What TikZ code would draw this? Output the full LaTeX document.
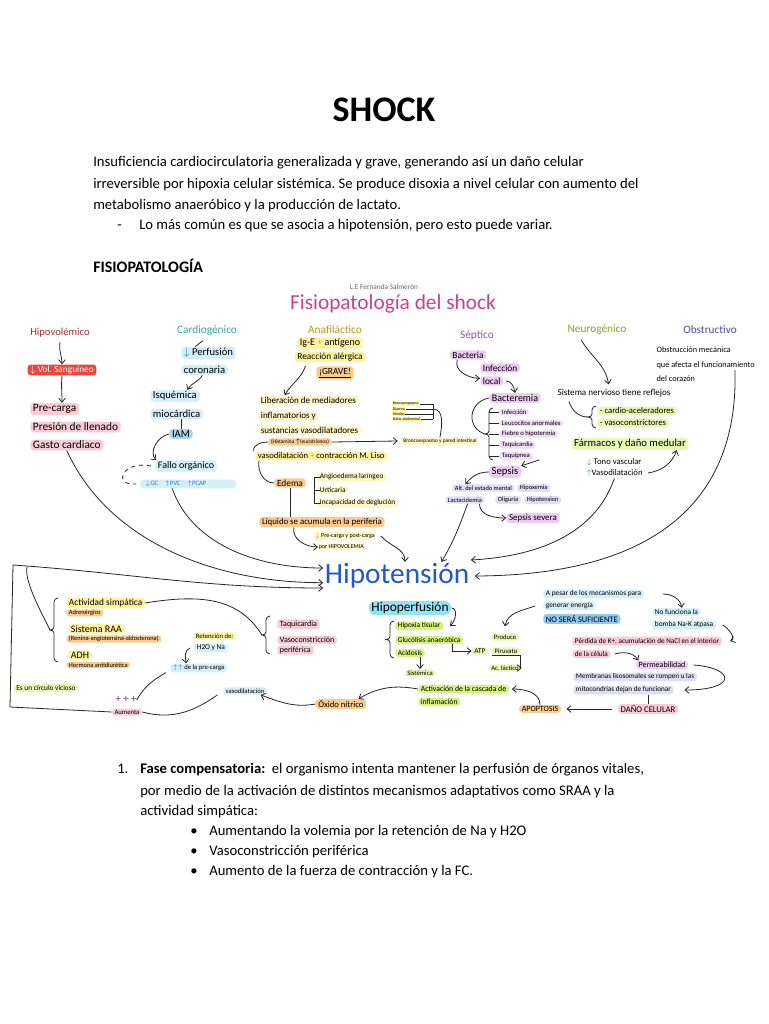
\documentclass[tikz,border=0pt]{standalone}
\usepackage{fontspec}
\setmainfont{Carlito}
\frenchspacing
\usetikzlibrary{arrows.meta,positioning}
\definecolor{hipoRed}{HTML}{A32B3F}
\definecolor{volRed}{HTML}{E8473F}
\definecolor{mapPink}{HTML}{F9CBD6}
\definecolor{cardTeal}{HTML}{3C9FA8}
\definecolor{mapBlue}{HTML}{D5EFF8}
\definecolor{iamBlue}{HTML}{A9D3F2}
\definecolor{arrBlue}{HTML}{2F78D0}
\definecolor{mapYellow}{HTML}{FFF29E}
\definecolor{mapYellowL}{HTML}{FDF6C8}
\definecolor{mapOrange}{HTML}{F9CB8E}
\definecolor{plusOrange}{HTML}{F0A020}
\definecolor{anaOlive}{HTML}{B39B1F}
\definecolor{septPurple}{HTML}{8A5AA8}
\definecolor{mapPurple}{HTML}{EDCBF3}
\definecolor{mapLav}{HTML}{DEDFF7}
\definecolor{neuroGreen}{HTML}{86A227}
\definecolor{mapGreenL}{HTML}{E8F8B4}
\definecolor{mapGreen}{HTML}{D6F27E}
\definecolor{arrGreen}{HTML}{3FA33A}
\definecolor{obsBlue}{HTML}{4B4F9A}
\definecolor{titlePink}{HTML}{C8438F}
\definecolor{hipoBlue}{HTML}{2359C6}
\definecolor{perfCyan}{HTML}{93E3F2}
\definecolor{boxBlue}{HTML}{8FC8F2}
\definecolor{plusPurple}{HTML}{7A2E8A}

% curly bracket: x, top, bottom, name of tip
\newcommand{\curlyb}[4]{%
  \draw[line] ({#1+4},#2) to[out=180,in=90] (#1,{#2+4}) -- (#1,{(#2+#3)/2-3})
    to[out=-90,in=0] ({#1-4},{(#2+#3)/2}) to[out=0,in=90] (#1,{(#2+#3)/2+3})
    -- (#1,{#3-4}) to[out=-90,in=180] ({#1+4},#3);
  \coordinate (#4) at ({#1-4},{(#2+#3)/2});}

\begin{document}
\begin{tikzpicture}[x=0.75pt,y=-0.75pt,
    fs/.style={font=\fontsize{#1}{#1}\selectfont},
    tag/.style={rounded corners=2.5pt,inner xsep=2pt,inner ysep=1pt},
    pk/.style={tag,fill=mapPink},
    bl/.style={tag,fill=mapBlue},
    yl/.style={tag,fill=mapYellow},
    ylt/.style={tag,fill=mapYellowL},
    og/.style={tag,fill=mapOrange},
    pu/.style={tag,fill=mapPurple},
    lv/.style={tag,fill=mapLav},
    gl/.style={tag,fill=mapGreenL},
    gr/.style={tag,fill=mapGreen},
    line/.style={draw=black!85,line width=0.6pt},
    arr/.style={line,-{Straight Barb[length=3pt,width=5pt]}},
    body/.style={anchor=base west,inner sep=0pt,fs=11}]
  \useasboundingbox[fill=white] (0,0) rectangle (768,1024);

  % page text
  \node[anchor=base,inner sep=0pt,font=\bfseries\fontsize{27}{30}\selectfont] (shock) at (384,121) {SHOCK};
  \node[body] (p1) at (93,166) {Insuficiencia cardiocirculatoria generalizada y grave, generando así un daño celular};
  \node[body] (p2) at (93,188) {irreversible por hipoxia celular sistémica. Se produce disoxia a nivel celular con aumento del};
  \node[body] (p3) at (93,209) {metabolismo anaeróbico y la producción de lactato.};
  \node[body] (dsh) at (117,229) {-};
  \node[body] (p4) at (139,229) {Lo más común es que se asocia a hipotensión, pero esto puede variar.};
  \node[body,font=\bfseries\fontsize{12}{14}\selectfont] (fisio) at (93,272) {FISIOPATOLOGÍA};

  % map title
  \node[fs=5.5,text=black!60] (autor) at (384,287) {L.E Fernanda Salmerón};
  \node[fs=16,text=titlePink] (mtitle) at (393,304) {Fisiopatología del shock};

  % hipovolemico
  \node[fs=8,text=hipoRed] (hipo) at (60,333) {Hipovolémico};
  \node[tag,fill=volRed,text=white,fs=7] (vol) at (62,370) {$\downarrow$ Vol. Sanguíneo};
  \node[pk,fs=8.5,anchor=west] (prec) at (30,409) {Pre-carga};
  \node[pk,fs=8.5,anchor=west] (pres) at (30,427) {Presión de llenado};
  \node[pk,fs=8.5,anchor=west] (gasto) at (30,445) {Gasto cardiaco};

  % cardiogenico
  \node[fs=8.5,text=cardTeal] (cardio) at (207,331) {Cardiogénico};
  \node[bl,fs=8,anchor=west] (perf) at (181,353) {\textcolor{arrBlue}{$\downarrow$} Perfusión};
  \node[bl,fs=8,anchor=west] (coro) at (181,370) {coronaria};
  \node[bl,fs=8,anchor=west] (isq) at (150,396) {Isquémica};
  \node[bl,fs=8,anchor=west] (mioc) at (150,414) {miocárdica};
  \node[tag,fill=iamBlue,fs=8] (iam) at (181,434) {IAM};
  \node[bl,fs=7.5,anchor=west] (fallo) at (155,466) {Fallo orgánico};
  \node[bl,fs=5,anchor=west,text=arrBlue,text width=64pt,inner xsep=4pt,align=left] (gc) at (140,484) {$\downarrow$GC \ \ $\uparrow$PVC \ \ $\uparrow$PCAP};

  % anafilactico
  \node[fs=8.5,text=anaOlive] (ana) at (335,330) {Anafiláctico};
  \node[yl,fs=7.5] (ige) at (330,343) {Ig-E \textcolor{plusOrange}{+} antígeno};
  \node[yl,fs=7] (reac) at (330,357) {Reacción alérgica};
  \node[og,fs=7] (grave) at (335,373) {\underline{¡GRAVE!}};
  \node[ylt,fs=6.8,anchor=west] (lib) at (258,400) {Liberación de mediadores};
  \node[ylt,fs=6.8,anchor=west] (infl) at (258,416) {inflamatorios y};
  \node[ylt,fs=6.8,anchor=west] (sust) at (258,430) {sustancias vasodilatadores};
  \node[og,fs=4,inner ysep=0.5pt] (hist) at (300,442) {(Histamina \textbf{$\uparrow$}leucotrienos)};
  \node[fs=4,fill=mapYellowL,inner sep=1pt] (bronq) at (440,441) {Broncoespasmo y pared intestinal};
  \foreach \t [count=\i] in {Broncoespasmo,Diarrea,Vómito,Dolor abdominal}
    \node[fs=3,fill=mapYellow,inner sep=0.4pt,anchor=west] (br\i) at (392,{399+5*\i}) {\t};
  \node[yl,fs=6.5,anchor=west] (vaso) at (255,456) {vasodilatación \textcolor{plusOrange}{+} contracción M. Liso};
  \node[og,fs=7] (edema) at (290,483) {Edema};
  \node[ylt,fs=5.5,anchor=west] (angio) at (317,477) {Angioedema laríngeo};
  \node[ylt,fs=5.5,anchor=west] (urt) at (317,490) {Urticaria};
  \node[ylt,fs=5.5,anchor=west] (incap) at (317,503) {Incapacidad de deglución};
  \node[og,fs=6.6] (liq) at (322,522) {Líquido se acumula en la periferia};
  \node[fs=4.5,inner sep=0.5pt,anchor=west,fill=mapYellowL] (pc1) at (314,536) {\textcolor{plusOrange}{$\downarrow$} Pre-carga y post-carga};
  \node[fs=4.5,inner sep=0.5pt,anchor=west,fill=mapYellowL] (pc2) at (318,547) {por HIPOVOLEMIA};

  % septico
  \node[fs=8.5,text=septPurple] (sept) at (477,335) {Séptico};
  \node[pu,fs=7] (bact) at (468,355) {Bacteria};
  \node[pu,fs=7,anchor=west] (inf1) at (480,368) {Infección};
  \node[pu,fs=7,anchor=west] (inf2) at (480,381) {local};
  \node[pu,fs=7.5] (bacte) at (515,398) {Bacteremia};
  \foreach \t [count=\i] in {Infección,Leucocitos anormales,Fiebre o hipotermia,Taquicardia,Taquipnea}
    \node[pu,fs=5,anchor=west,inner ysep=0.6pt,fill=mapPurple!70] (sl\i) at (499,{401+11*\i}) {\t};
  \node[pu,fs=8] (sepsis) at (505,472) {Sepsis};
  \node[lv,fs=4.8,anchor=west] (alt) at (452,488) {Alt. del estado mental};
  \node[lv,fs=4.8,anchor=west] (hpx) at (517,488) {Hipoxemia};
  \node[lv,fs=4.8,anchor=west] (lact) at (445,500) {Lactacidemia};
  \node[lv,fs=4.8,anchor=west] (olig) at (495,500) {Oliguria};
  \node[lv,fs=4.8,anchor=west] (hpt) at (524,500) {Hipotension};
  \node[pu,fs=6.7] (sevsep) at (533,518) {Sepsis severa};

  % neurogenico
  \node[fs=8.5,text=neuroGreen] (neuro) at (597,330) {Neurogénico};
  \node[fs=6.8] (snrf) at (614,393) {Sistema nervioso tiene reflejos};
  \node[gl,fs=6.5,anchor=west] (cacc) at (597,411) {- cardio-aceleradores};
  \node[gl,fs=6.5,anchor=west] (vcon) at (597,423) {- vasoconstrictores};
  \node[gl,fs=8] (farm) at (630,444) {Fármacos y daño medular};
  \node[fs=6.5,anchor=west,inner sep=1pt] (tono) at (585,462) {\textcolor{arrGreen}{$\downarrow$} Tono vascular};
  \node[fs=6.5,anchor=west,inner sep=1pt] (vdil) at (585,473) {\textcolor{arrGreen}{$\uparrow$}Vasodilatación};

  % obstructivo
  \node[fs=8.5,text=obsBlue] (obst) at (710,330) {Obstructivo};
  \node[fs=6.2,anchor=west,inner sep=1pt] (ob1) at (655,350) {Obstrucción mecánica};
  \node[fs=6.2,anchor=west,inner sep=1pt] (ob2) at (655,365) {que afecta el funcionamiento};
  \node[fs=6.2,anchor=west,inner sep=1pt] (ob3) at (655,379) {del corazón};

  % hipotension
  \node[text=hipoBlue,fs=22,inner sep=1pt] (hten) at (397,576) {Hipotensión};

  % compensacion
  \node[yl,fs=7,anchor=west] (act) at (66,603) {Actividad simpática};
  \node[og,fs=4.8,anchor=west,inner ysep=0.5pt] (adr) at (66,613) {Adrenérgico};
  \node[yl,fs=7.5,anchor=west] (raa) at (68,629) {Sistema RAA};
  \node[og,fs=4.8,anchor=west,inner ysep=0.5pt] (ren) at (66,639) {(Renina-angiotensina-aldosterona)};
  \node[yl,fs=7.5,anchor=west] (adh) at (68,655) {ADH};
  \node[og,fs=4.8,anchor=west,inner ysep=0.5pt] (horm) at (66,665) {Hormona antidiurética};
  \node[gl,fs=5.5] (circ) at (46,688) {Es un círculo vicioso};
  \node[fs=8,text=plusPurple,inner sep=0pt] (plus) at (126,700) {+ + +};
  \node[pk,fs=5] (aum) at (127,712) {Aumenta};
  \node[yl,fs=5,anchor=west] (ret) at (193,636) {Retención de:};
  \node[bl,fs=5.5,anchor=west] (h2o) at (194,648) {H2O y Na};
  \node[bl,fs=5,anchor=west] (pre2) at (170,668) {\textcolor{arrBlue}{$\uparrow\uparrow$} de la pre-carga};
  \node[pk,fs=6,anchor=west] (taq) at (277,624) {Taquicardia};
  \node[pk,fs=6,anchor=west] (vc1) at (277,640) {Vasoconstricción};
  \node[pk,fs=6,anchor=west] (vc2) at (277,650) {periférica};
  \node[bl,fs=5] (vasod) at (245,691) {vasodilatación};
  \node[og,fs=6.5] (oxido) at (341,704) {Óxido nítrico};

  % hipoperfusion
  \node[tag,fill=perfCyan,fs=10,rounded corners=5pt] (hperf) at (410,608) {Hipoperfusión};
  \node[gr,fs=5.5,anchor=west] (hx) at (395,626) {Hipoxia tisular};
  \node[gr,fs=5.5,anchor=west] (glu) at (395,640) {Glucólisis anaeróbica};
  \node[gr,fs=5.5,anchor=west] (acid) at (395,653) {Acidosis};
  \node[gl,fs=5] (sist) at (420,673) {Sistémica};
  \node[gl,fs=5] (prod) at (505,637) {Produce};
  \node[gl,fs=5.5] (atp) at (480,651) {ATP};
  \node[gl,fs=5] (piru) at (506,651) {Piruvato};
  \node[gl,fs=5] (acl) at (505,668) {Ac. láctico};
  \node[gr,fs=5.8,anchor=west] (act1) at (418,689) {Activación de la cascada de};
  \node[gr,fs=5.8,anchor=west] (act2) at (418,702) {inflamación};
  \node[og,fs=6] (apop) at (540,709) {APOPTOSIS};
  \node[pk,fs=6.5] (dano) at (648,709) {DAÑO CELULAR};

  % daño celular
  \node[bl,fs=5.5,anchor=west] (ap1) at (543,594) {A pesar de los mecanismos para};
  \node[bl,fs=5.5,anchor=west] (ap2) at (543,606) {generar energía};
  \node[tag,fill=boxBlue,fs=6.3,anchor=west] (nos) at (543,619) {NO SERÁ SUFICIENTE};
  \node[bl,fs=5.5,anchor=west] (nof) at (652,612) {No funciona la};
  \node[bl,fs=5.5,anchor=west] (bom) at (652,625) {bomba Na-K atpasa};
  \node[pk,fs=5.4,anchor=west] (perd) at (572,641) {Pérdida de K+, acumulación de NaCl en el interior};
  \node[pk,fs=5.4,anchor=west] (cel) at (572,654) {de la célula};
  \node[pu,fs=6] (perm) at (662,665) {Permeabilidad};
  \node[lv,fs=5.4,anchor=west] (mem1) at (573,677) {Membranas lisosomales se rompen u las};
  \node[lv,fs=5.4,anchor=west] (mem2) at (573,690) {mitocondrias dejan de funcionar};

  % brackets
  \curlyb{489}{408}{460}{brSep}
  \curlyb{592}{406}{428}{brNeu}
  \curlyb{54}{598}{662}{brSim}
  \curlyb{266}{616}{654}{brTaq}
  \curlyb{390}{621}{658}{brHx}
  \coordinate (sbx) at (489,0);
  \coordinate (bx) at (433,0);

  % connectors: columns
  \draw[arr] (hipo.south) to[out=-100,in=90] (vol.north);
  \draw[arr] (vol.south) to[out=-95,in=90] (vol.south |- prec.north);
  \draw[line] ([xshift=-3pt]cardio.south) -- ([xshift=-10pt]perf.north);
  \draw[arr] ([xshift=16pt]coro.south west) to[out=-120,in=60] ([xshift=28pt]isq.north west);
  \draw[line] (mioc.south -| iam.north) -- (iam.north);
  \draw[arr] (iam.west) to[out=190,in=135] ([xshift=1pt]fallo.north west);
  \draw[line,dashed] ([xshift=-3pt]fallo.west) .. controls (122,460) and (112,486) .. ([xshift=-3pt]gc.west);
  \draw[arr] (gasto.south) .. controls (110,545) and (220,583) .. ([yshift=-5pt]hten.west);
  \draw[arr] ([xshift=-12pt]gc.south) .. controls (190,540) and (250,568) .. ([yshift=6pt]hten.west);

  \draw[arr] ([xshift=-8pt]grave.north west) to[out=-110,in=60] ([xshift=20pt]lib.north west);
  \draw[arr] (hist.east) -- ([xshift=-3pt]bronq.west);
  \foreach \b in {br1,br2,br3,br4}
    \draw[line] (\b.east) -- (\b.east -| bx);
  \draw[line] (bx |- br1) -- (bx |- br4);
  \draw[line] (bx |- br2) to[out=0,in=80] (bronq.north);
  \draw[line] (hist.west) to[out=180,in=100] ([xshift=-1pt]vaso.north west);
  \draw[line] ([xshift=3pt]vaso.south west) to[out=-100,in=180] (edema.west);
  \draw[line] ([xshift=3pt]angio.west) -| ([xshift=-2pt]incap.west) -- ([xshift=3pt]incap.west);
  \draw[line] ([xshift=-2pt]urt.west) -- ([xshift=2pt]urt.west);
  \draw[line] (edema.south) -- (edema.south |- liq.north);
  \draw[arr] ([xshift=26pt]liq.south west) to[out=-100,in=180] (pc2.west);
  \draw[arr] ([xshift=4pt]pc1.east) to[out=-50,in=90] ([xshift=6pt]hten.north);

  \draw[arr] ([xshift=-8pt]bact.south) to[out=-110,in=180] ([yshift=2pt]inf2.west);
  \draw[arr] ([xshift=2pt]inf2.east) to[out=0,in=100] (bacte.north);
  \draw[line] (bacte.west) .. controls (468,402) and (466,428) .. (brSep);
  \foreach \n in {sl1,sl2,sl3,sl4,sl5}
    \draw[line] (\n.west) -- (\n.west -| sbx);
  \draw[arr] ([xshift=5pt]sl5.south east) -- (sepsis.north east);
  \draw[arr] (sepsis.west) to[out=180,in=50] ([xshift=10pt]alt.north west);
  \draw[arr] ([xshift=-4pt]lact.south east) to[out=-90,in=180] (sevsep.west);
  \draw[arr] ([xshift=2pt]lact.south) to[out=-110,in=60] ([xshift=-22pt]hten.north east);

  \draw[arr] ([xshift=-12pt]neuro.south) to[out=-60,in=100] ([xshift=-4pt]snrf.north);
  \draw[line] ([xshift=12pt]snrf.south west) to[out=-70,in=180] (brNeu);
  \draw[arr] ([xshift=3pt]vdil.east) to[out=10,in=-110] ([xshift=-9pt]farm.south east);
  \draw[arr] ([xshift=22pt]vdil.south west) .. controls (600,520) and (560,555) .. ([yshift=12pt]hten.east);
  \draw[arr] ([xshift=-16pt]ob2.south east) .. controls (738,470) and (690,575) .. ([xshift=3pt]hten.east);

  % connectors: compensation loop
  \draw[arr] (aum.west) -- (10,707) -- (13,565) to[out=-4,in=180] ([yshift=-9pt]hten.west);
  \draw[line] (brSim) .. controls (40,610) and (24,580) .. (27,567);
  \draw[line] (act.east) .. controls (205,593) and (240,600) .. (brTaq);
  \draw[arr] ([xshift=-3pt]h2o.west) to[out=200,in=95] ([xshift=12pt]pre2.north west);
  \draw[line] (plus.east) to[out=60,in=-150] ([xshift=-3pt]pre2.south west);
  \draw[line] (aum.east) to[out=-15,in=-145] ([xshift=-4pt]vasod.south west);
  \draw[arr] (oxido.west) to[out=190,in=-20] ([xshift=-5pt]vasod.south east);
  \draw[arr] (act1.west) to[out=170,in=30] ([xshift=-6pt]oxido.north east);

  % connectors: hipoperfusion
  \draw[arr] (hperf.east) to[out=0,in=40] ([xshift=5pt]hx.east);
  \draw[arr] (acid.south -| sist.north) -- (sist.north);
  \draw[arr] ([xshift=-8pt]glu.south east) |- (atp.west);
  \draw[arr] (piru.south west) -- (piru.south east) |- (acl.east);
  \draw[arr] (apop.north) to[out=90,in=0] ([xshift=2pt]act1.east);
  \draw[arr] ([xshift=-4pt]dano.west) -- ([xshift=4pt]apop.east);
  \draw[line] (mem2.south -| dano.north) -- (dano.north);
  \draw[arr] ([xshift=4pt]perm.east) .. controls (735,668) and (738,690) .. ([xshift=8pt]mem2.east);
  \draw[arr] ([xshift=3pt]cel.east) to[out=15,in=120] ([xshift=2pt]perm.north west);
  \draw[arr] ([xshift=5pt]bom.east) to[out=-30,in=20] ([xshift=6pt]perd.east);
  \draw[arr] ([xshift=14pt]ap1.east) to[out=0,in=100] ([xshift=4pt]nof.north);
  \draw[arr] ([xshift=-6pt]ap2.west) to[out=200,in=80] ([yshift=5pt]prod.north);

  % list
  \node[body] (n1) at (117,773) {1.};
  \node[body] (l1) at (140,773) {\textbf{Fase compensatoria:}\ \ el organismo intenta mantener la perfusión de órganos vitales,};
  \node[body] (l2) at (140,795) {por medio de la activación de distintos mecanismos adaptativos como SRAA y la};
  \node[body] (l3) at (140,815) {actividad simpática:};
  \foreach \y/\t [count=\i] in {835/Aumentando la volemia por la retención de Na y H2O,855/Vasoconstricción periférica,875/Aumento de la fuerza de contracción y la FC.}{
    \node[body] (bu\i) at (190,\y) {\textbullet};
    \node[body] (it\i) at (209,\y) {\t};
  }
\end{tikzpicture}
\end{document}
